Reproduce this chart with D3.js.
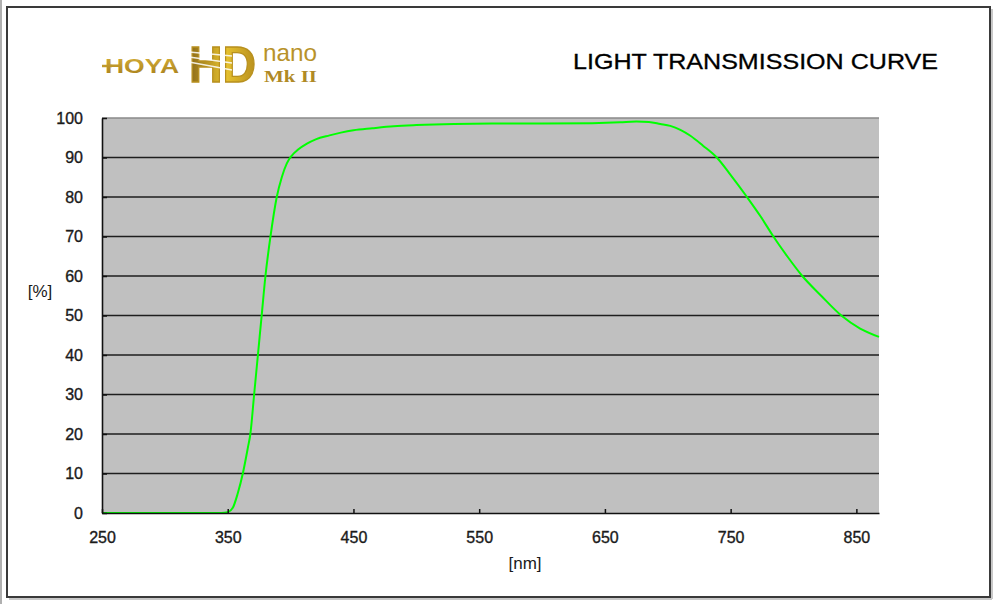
<!DOCTYPE html>
<html>
<head>
<meta charset="utf-8">
<script src="https://cdn.jsdelivr.net/npm/d3@7/dist/d3.min.js"></script>
<style>
  html, body { margin: 0; padding: 0; background: #fff; }
  svg { display: block; }
  .tick text { font-family: "Liberation Sans", Arial, sans-serif; }
</style>
</head>
<body>
<svg id="chart" width="1000" height="604"></svg>
<script>
// ---- data ----
const wavelengths = [250, 300, 345, 350, 354, 358, 362, 366, 368, 371, 374, 377, 380, 384, 389, 393, 397, 401, 406, 413, 420, 431, 440, 450, 465, 482, 500, 530, 560, 600, 640, 662, 675, 685, 694, 702, 710, 718, 728, 739, 749, 763, 774, 784, 795, 807, 822, 838, 853, 868];
const transmission = [0, 0, 0, 0.2, 1.3, 5, 10, 16.5, 20, 30, 40, 50, 60, 70, 80, 85, 88.5, 90.5, 92, 93.5, 94.6, 95.6, 96.3, 96.9, 97.4, 97.9, 98.2, 98.5, 98.6, 98.6, 98.7, 98.9, 99.1, 99.0, 98.5, 98.0, 97.0, 95.5, 93.0, 90.0, 86.0, 80.0, 75.0, 70.0, 65.0, 60.0, 55.0, 50.0, 46.7, 44.6];
const xTicks = [250, 350, 450, 550, 650, 750, 850];
const yTicks = [0, 10, 20, 30, 40, 50, 60, 70, 80, 90, 100];
const xDomain = [250, 868];
const yDomain = [0, 100];
const titleText = "LIGHT TRANSMISSION CURVE";
const xLabel = "[nm]";
const yLabel = "[%]";

const svg = d3.select("#chart");

// frame
svg.append("line").attr("x1", 1).attr("x2", 1).attr("y1", 0).attr("y2", 604)
  .attr("stroke", "#b0b0b0").attr("stroke-width", 2);
svg.append("rect").attr("x", 7).attr("y", 7).attr("width", 983).attr("height", 590)
  .attr("fill", "none").attr("stroke", "#3a3a3a").attr("stroke-width", 2);
svg.append("line").attr("x1", 992).attr("x2", 992).attr("y1", 9).attr("y2", 599)
  .attr("stroke", "#c8c8c8").attr("stroke-width", 2);
svg.append("line").attr("x1", 9).attr("x2", 992).attr("y1", 599).attr("y2", 599)
  .attr("stroke", "#c8c8c8").attr("stroke-width", 2);

const pLeft = 102, pRight = 879, pTop = 118, pBottom = 513;
const x = d3.scaleLinear().domain(xDomain).range([pLeft, pRight]);
const y = d3.scaleLinear().domain(yDomain).range([pBottom, pTop]);

// plot background
svg.append("rect").attr("x", pLeft).attr("y", pTop)
  .attr("width", pRight - pLeft).attr("height", pBottom - pTop)
  .attr("fill", "#c0c0c0");

// top border (grey)
svg.append("line").attr("x1", pLeft).attr("x2", pRight)
  .attr("y1", y(100)).attr("y2", y(100))
  .attr("stroke", "#8a8a8a").attr("stroke-width", 1.5);

// gridlines
svg.append("g").selectAll("line")
  .data(yTicks.filter(v => v > 0 && v < 100))
  .join("line")
  .attr("x1", pLeft).attr("x2", pRight)
  .attr("y1", d => y(d)).attr("y2", d => y(d))
  .attr("stroke", "#1e1e1e").attr("stroke-width", 1.6);

// curve
const line = d3.line()
  .x((d, i) => x(wavelengths[i]))
  .y(d => y(d))
  .curve(d3.curveMonotoneX);
svg.append("path")
  .datum(transmission)
  .attr("d", line)
  .attr("fill", "none")
  .attr("stroke", "#00ff00")
  .attr("stroke-width", 2);

// y axis
const yAxis = svg.append("g")
  .attr("transform", `translate(${pLeft},0)`)
  .call(d3.axisLeft(y).tickValues(yTicks).tickSizeInner(-5).tickSizeOuter(0).tickPadding(19));
yAxis.select(".domain").attr("stroke", "#111").attr("stroke-width", 1.6);
yAxis.selectAll(".tick line").attr("stroke", "#111").attr("stroke-width", 1.5);
yAxis.selectAll(".tick text").attr("font-size", 16).attr("fill", "#1a1a1a")
  .attr("stroke", "#1a1a1a").attr("stroke-width", 0.35);

// x axis
const xAxis = svg.append("g")
  .attr("transform", `translate(0,${pBottom})`)
  .call(d3.axisBottom(x).tickValues(xTicks).tickSizeInner(-4).tickSizeOuter(0).tickPadding(19));
xAxis.select(".domain").attr("stroke", "#111").attr("stroke-width", 1.6);
xAxis.selectAll(".tick line").attr("stroke", "#111").attr("stroke-width", 1.5);
xAxis.selectAll(".tick text").attr("font-size", 16).attr("fill", "#1a1a1a")
  .attr("stroke", "#1a1a1a").attr("stroke-width", 0.35);

// axis titles
svg.append("text").attr("x", 525).attr("y", 569)
  .attr("text-anchor", "middle")
  .attr("font-family", "Liberation Sans, Arial, sans-serif")
  .attr("font-size", 17).attr("fill", "#1a1a1a").text(xLabel);
svg.append("text").attr("x", 40).attr("y", 297)
  .attr("text-anchor", "middle")
  .attr("font-family", "Liberation Sans, Arial, sans-serif")
  .attr("font-size", 17).attr("fill", "#1a1a1a").text(yLabel);

// title
svg.append("text").attr("x", 573).attr("y", 69)
  .attr("font-family", "Liberation Sans, Arial, sans-serif")
  .attr("font-size", 22.5).attr("fill", "#000")
  .attr("stroke", "#000").attr("stroke-width", 0.3)
  .attr("textLength", 365).attr("lengthAdjust", "spacingAndGlyphs")
  .text(titleText);

// logo
const defs = svg.append("defs");
const g1 = defs.append("linearGradient").attr("id", "goldH").attr("x1", "0").attr("x2", "1").attr("y1", "0").attr("y2", "0");
g1.append("stop").attr("offset", "0%").attr("stop-color", "#8c6a18");
g1.append("stop").attr("offset", "55%").attr("stop-color", "#e6c12e");
g1.append("stop").attr("offset", "100%").attr("stop-color", "#b88f1e");
const g2 = defs.append("linearGradient").attr("id", "goldV").attr("x1", "0").attr("x2", "0").attr("y1", "0").attr("y2", "1");
g2.append("stop").attr("offset", "0%").attr("stop-color", "#d9b23a");
g2.append("stop").attr("offset", "100%").attr("stop-color", "#a67e1c");

svg.append("line").attr("x1", 102).attr("x2", 112).attr("y1", 66).attr("y2", 66)
  .attr("stroke", "#c09a2c").attr("stroke-width", 2.5);
svg.append("text").attr("x", 105).attr("y", 73)
  .attr("font-family", "Liberation Sans, Arial, sans-serif").attr("font-weight", "bold")
  .attr("font-size", 21).attr("fill", "url(#goldV)")
  .attr("textLength", 74).attr("lengthAdjust", "spacingAndGlyphs")
  .text("HOYA");
svg.append("text").attr("x", 0).attr("y", 0)
  .attr("transform", "translate(189,82) scale(1,1.1)")
  .attr("font-family", "Liberation Sans, Arial, sans-serif").attr("font-weight", "bold")
  .attr("font-size", 46).attr("fill", "url(#goldH)")
  .attr("stroke", "#b8901e").attr("stroke-width", 1.2)
  .attr("textLength", 67).attr("lengthAdjust", "spacingAndGlyphs")
  .text("HD");
// stripes on HD
svg.append("g").selectAll("line").data([0, 1, 2]).join("line")
  .attr("x1", 189).attr("x2", 232)
  .attr("y1", d => 52 + d * 5).attr("y2", d => 56 + d * 7)
  .attr("stroke", "#fff").attr("stroke-width", 1.3).attr("opacity", 0.85);
svg.append("text").attr("x", 263).attr("y", 60.5)
  .attr("font-family", "Liberation Sans, Arial, sans-serif")
  .attr("font-size", 24).attr("fill", "#b8922a")
  .attr("textLength", 54).attr("lengthAdjust", "spacingAndGlyphs")
  .text("nano");
svg.append("text").attr("x", 264).attr("y", 82)
  .attr("font-family", "Liberation Serif, Times New Roman, serif").attr("font-weight", "bold")
  .attr("font-size", 17.5).attr("fill", "#b08a26")
  .attr("textLength", 53).attr("lengthAdjust", "spacingAndGlyphs")
  .text("Mk II");
</script>
</body>
</html>
